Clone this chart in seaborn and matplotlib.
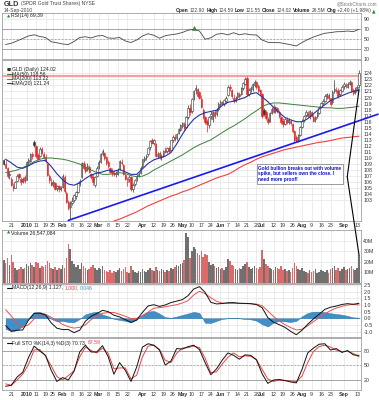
import numpy as np
import pandas as pd
import matplotlib
matplotlib.use("Agg")
import matplotlib.pyplot as plt
import seaborn as sns
from matplotlib.patches import ConnectionPatch

sns.set_style("white")
plt.rcParams['font.family'] = ['Liberation Sans', 'DejaVu Sans']

# ---------------- data ----------------
holidays = ['2009-12-25', '2010-01-01', '2010-01-18', '2010-02-15',
            '2010-04-02', '2010-05-31', '2010-07-05', '2010-09-06']
dates = pd.bdate_range('2009-12-15', '2010-09-14')
dates = dates[~dates.isin(pd.to_datetime(holidays))]

opens = [109.6, 109.0, 108.3, 107.2, 106.6, 105.4, 105.1, 106.2, 107.3, 106.6, 106.2, 106.8,
         106.4, 109.4, 109.5, 110.6, 112.7, 112.0, 110.5, 110.3, 111.5, 110.7, 110.2, 109.0, 107.0, 106.0, 105.8, 105.9, 105.0, 105.3, 104.8,
         105.2, 106.9, 104.3, 102.8, 101.9, 102.6, 103.0, 103.8, 104.4, 105.8, 106.8, 109.2, 108.5, 108.2, 108.5, 107.4, 106.9, 105.5, 107.0,
         108.5, 109.4, 110.6, 110.9, 110.2, 109.3, 108.3, 107.8, 107.5, 107.4, 107.4, 108.2, 109.4, 108.9, 107.2, 106.0, 106.5, 106.9, 104.8, 105.7, 106.5, 107.1, 107.6,
         108.6, 109.7, 110.1, 110.6, 111.8, 113.0, 112.4, 112.3, 110.4, 110.8, 110.2, 110.5, 111.3, 111.1, 111.6, 111.4, 113.0, 113.4, 113.3, 114.1, 114.7,
         115.3, 115.6, 115.2, 116.8, 118.2, 117.8, 119.9, 121.2, 121.4, 120.9, 119.8, 118.0, 116.8, 116.2, 115.4, 116.9, 116.5, 117.6, 117.2, 118.1,
         119.0, 119.2, 119.0, 119.5, 120.4, 121.7, 121.3, 120.0, 119.5, 120.1, 120.6, 120.5, 121.6, 122.3, 123.2, 120.6, 121.3, 121.4, 122.0, 122.5, 121.9, 121.2,
         120.5, 117.9, 117.6, 116.4, 116.1, 117.5, 118.2, 117.7, 118.2, 117.6, 116.8, 116.2, 115.7, 116.3, 116.0, 116.1, 115.6, 114.4, 113.5, 113.0, 113.8,
         115.2, 116.3, 117.1, 117.5, 116.9, 117.6, 116.8, 116.4, 116.9, 117.5, 118.4, 119.1, 119.5, 120.3, 120.4, 119.9, 119.2, 121.0, 121.3, 121.1, 120.6, 121.1,
         121.9, 122.1, 121.8, 122.3, 122.5, 121.3, 120.9, 121.6, 122.0]
highs = [109.9, 109.6, 108.5, 107.8, 106.9, 105.8, 106.2, 107.3, 107.6, 106.9, 106.8, 107.2,
         109.5, 110.0, 110.9, 111.0, 113.0, 112.2, 110.9, 111.8, 111.9, 111.0, 110.6, 109.2, 107.3, 106.7, 106.4, 106.1, 105.6, 105.6, 105.4,
         107.3, 107.2, 104.6, 103.0, 102.9, 103.6, 104.1, 104.6, 106.1, 106.6, 109.3, 109.5, 109.1, 109.2, 108.8, 107.6, 107.3, 107.0, 108.6,
         109.6, 110.8, 111.5, 111.0, 110.4, 109.6, 108.5, 108.3, 108.0, 107.9, 108.3, 109.7, 109.9, 109.0, 107.5, 106.9, 107.2, 107.1, 105.9, 106.6, 107.3, 107.7, 108.6,
         109.9, 110.3, 110.6, 111.9, 112.9, 113.3, 113.1, 112.4, 111.0, 111.1, 110.7, 111.4, 111.9, 111.9, 112.0, 113.0, 113.8, 113.9, 114.2, 115.0, 115.6,
         116.0, 115.9, 117.0, 118.7, 119.0, 120.0, 121.3, 122.0, 121.6, 121.1, 120.4, 118.3, 117.0, 116.5, 117.0, 117.7, 117.8, 118.0, 118.2, 119.2,
         119.6, 119.5, 119.8, 120.3, 122.0, 122.2, 121.4, 120.5, 120.2, 120.9, 120.9, 121.7, 122.6, 123.4, 123.5, 121.5, 121.9, 122.4, 122.9, 122.8, 122.3, 121.4,
         120.7, 118.3, 117.9, 116.7, 117.6, 118.4, 119.0, 118.6, 118.5, 117.9, 117.0, 116.6, 116.6, 116.8, 116.6, 116.5, 115.8, 114.6, 113.8, 114.0, 115.3,
         116.4, 117.1, 117.9, 117.8, 118.0, 117.8, 117.2, 117.0, 117.7, 118.6, 119.3, 119.7, 120.5, 120.8, 120.7, 120.0, 121.2, 122.9, 121.8, 121.6, 121.4, 122.1,
         122.5, 122.4, 122.6, 122.9, 122.7, 121.6, 121.7, 122.0, 124.59]
lows = [108.8, 108.3, 106.7, 106.6, 105.3, 104.6, 105.0, 106.1, 106.5, 105.6, 105.8, 105.9,
        106.3, 108.9, 109.3, 109.8, 111.9, 110.0, 109.6, 110.1, 110.6, 109.8, 109.2, 107.0, 105.9, 105.3, 105.2, 104.7, 104.5, 104.4, 104.5,
        105.0, 104.2, 102.5, 101.4, 99.9, 102.2, 102.7, 103.3, 104.2, 105.3, 106.7, 108.0, 107.6, 107.9, 107.5, 106.6, 105.6, 105.2, 106.9,
        108.2, 109.2, 110.3, 109.7, 108.9, 108.4, 107.5, 107.1, 107.0, 106.9, 107.2, 108.0, 108.8, 107.2, 106.3, 105.4, 106.0, 104.6, 104.4, 105.3, 106.2, 106.8, 107.3,
        108.4, 109.4, 109.6, 110.4, 111.4, 112.3, 112.1, 110.1, 110.0, 109.8, 109.6, 110.2, 110.8, 110.9, 110.9, 111.3, 112.6, 112.8, 113.0, 113.9, 114.4,
        114.9, 114.5, 115.0, 116.5, 117.1, 117.5, 119.6, 120.6, 119.9, 119.7, 118.2, 116.4, 115.6, 114.3, 115.0, 116.4, 116.0, 116.6, 116.9, 117.8,
        118.5, 118.8, 118.6, 119.1, 120.2, 121.0, 119.9, 119.1, 119.2, 119.8, 120.0, 120.4, 121.3, 122.1, 120.2, 120.3, 120.9, 121.1, 121.7, 121.4, 120.7, 120.4,
        116.6, 117.0, 116.3, 115.6, 116.0, 117.2, 117.4, 117.5, 117.4, 116.6, 115.6, 115.2, 115.4, 115.7, 115.6, 115.5, 114.2, 112.6, 112.7, 112.7, 113.6,
        115.0, 116.0, 116.7, 116.7, 116.5, 116.7, 115.9, 116.0, 116.6, 117.3, 118.2, 118.7, 119.3, 119.8, 119.6, 118.6, 119.0, 120.8, 120.7, 119.9, 120.3, 120.9,
        121.4, 121.6, 121.5, 122.0, 120.9, 120.4, 120.6, 121.1, 121.55]
closes = [109.0, 108.4, 107.0, 107.4, 105.5, 105.0, 106.0, 107.1, 106.8, 106.0, 106.6, 106.2,
          109.3, 109.6, 110.7, 110.4, 112.2, 110.3, 109.9, 111.5, 110.9, 110.1, 109.5, 107.2, 106.3, 105.6, 106.1, 104.9, 105.3, 104.8, 105.1,
          107.1, 104.5, 102.7, 101.7, 102.5, 102.9, 103.9, 104.4, 105.9, 106.2, 109.1, 108.3, 107.9, 108.6, 107.7, 106.9, 106.0, 106.8, 108.4,
          109.4, 110.6, 111.2, 110.0, 109.2, 108.7, 107.7, 107.6, 107.3, 107.5, 108.1, 109.5, 109.1, 107.4, 106.6, 106.5, 106.8, 104.9, 105.6, 106.4, 107.0, 107.4, 108.3,
          109.8, 110.0, 110.4, 111.7, 112.8, 112.5, 112.9, 110.4, 110.6, 110.1, 110.3, 111.2, 111.0, 111.7, 111.2, 112.9, 113.5, 113.1, 114.0, 114.8, 115.4,
          115.8, 114.9, 116.8, 118.3, 117.6, 119.8, 121.0, 121.5, 120.2, 120.0, 118.5, 116.7, 116.0, 115.6, 116.8, 117.2, 117.6, 116.9, 118.0, 119.0,
          119.3, 119.0, 119.6, 119.9, 121.8, 121.6, 120.2, 119.4, 119.9, 120.7, 120.3, 121.5, 122.4, 123.1, 120.5, 121.2, 121.5, 122.2, 122.6, 121.7, 121.0, 120.6,
          117.0, 117.2, 116.6, 115.9, 117.4, 118.1, 117.6, 118.4, 117.7, 117.0, 115.9, 115.6, 116.4, 116.0, 116.3, 115.8, 114.5, 112.9, 112.8, 113.8, 115.1,
          116.2, 116.9, 117.6, 117.0, 117.8, 117.0, 116.2, 116.7, 117.4, 118.4, 119.1, 119.4, 120.3, 120.6, 119.9, 118.9, 120.9, 121.4, 121.0, 120.2, 121.2, 121.8,
          122.2, 121.9, 122.3, 122.6, 121.1, 120.8, 121.4, 121.6, 124.02]
volume_m = [22, 19, 24, 17, 26, 20, 14, 12, 13, 15, 13, 14,
            18, 16, 19, 17, 15, 20, 19, 14, 16, 15, 17, 21, 19, 14, 13, 15, 12, 14, 13,
            17, 14, 24, 37, 32, 21, 18, 15, 17, 13, 19, 16, 14, 12, 13, 15, 17, 14, 12,
            14, 13, 16, 12, 11, 10, 12, 9, 11, 10, 12, 14, 11, 13, 15, 10, 9, 16, 12, 10, 9, 11, 10,
            13, 11, 10, 12, 14, 12, 11, 15, 12, 11, 13, 12, 10, 12, 11, 14, 13, 15, 17, 16, 18,
            19, 22, 47, 43, 24, 30, 34, 32, 28, 26, 30, 25, 27, 26, 20, 17, 18, 16, 14, 15,
            13, 14, 12, 15, 23, 21, 17, 16, 13, 12, 14, 13, 16, 18, 20, 15, 13, 14, 16, 14, 13, 15,
            31, 23, 18, 16, 14, 13, 12, 15, 14, 13, 16, 12, 13, 11, 12, 10, 14, 19, 16, 13, 12,
            14, 11, 10, 9, 12, 10, 11, 13, 9, 10, 12, 11, 10, 12, 9, 13, 14, 16, 12, 14, 11, 13,
            15, 12, 13, 14, 16, 13, 12, 14, 26.5]

# indicator readings, one every third session
rsi14 = [39, 41.5, 46, 51, 56, 58.5, 55, 53, 44.5, 42.5, 40, 39, 45, 53, 54.5, 52, 56, 57, 52, 51.5,
         53, 46, 43, 48, 56, 60.5, 57.5, 51.5, 56.5, 58.5, 60, 63, 67.5, 69.5, 66, 49.5, 52.5, 59.5, 61, 58.5,
         62.5, 58.5, 60.5, 58.5, 58, 48, 43.5, 42.7, 42.7, 40.7, 38.5, 36, 43, 49, 54, 58, 61.5, 62.7, 64.5, 64.7,
         66, 64.7, 69.4]
ema20 = [109.8, 109.2, 108.5, 108.3, 108.7, 109.2, 109.5, 109.6, 108.6, 107.4, 106.4, 105.7, 105.5, 105.9, 106.6,
         107.2, 107.5, 107.7, 108.0, 107.8, 108.1, 107.7, 107.3, 107.3, 108.2, 109.1, 109.7, 110.0, 110.3, 110.9,
         112.3, 113.9, 115.3, 116.4, 117.1, 117.5, 117.7, 117.9, 118.7, 119.2, 119.4, 119.7, 120.0, 120.6, 120.8,
         120.1, 119.3, 118.4, 117.5, 116.7, 116.3, 116.0, 116.0, 116.5, 117.3, 118.1, 118.8, 119.5, 119.9, 120.3,
         120.7, 121.0, 121.24]
ma50 = [107.6, 107.8, 108.0, 108.4, 108.9, 109.4, 109.8, 110.0, 110.0, 109.9, 109.8, 109.6, 109.3, 109.0, 108.5,
        108.0, 107.6, 107.3, 107.3, 107.4, 107.6, 107.4, 107.1, 106.9, 107.0, 107.4, 108.0, 108.5, 109.0, 109.5,
        110.0, 110.5, 111.1, 111.7, 112.2, 112.6, 113.0, 113.6, 114.2, 114.8, 115.3, 115.9, 116.5, 117.2, 117.8,
        118.5, 118.9, 119.1, 119.1, 119.0, 118.9, 118.8, 118.7, 118.6, 118.5, 118.4, 118.3, 118.3, 118.2, 118.2,
        118.3, 118.4, 118.56]
ma200 = [np.nan] * 19 + [99.6, 99.9, 100.3, 100.7, 101.1, 101.6, 102.1, 102.5, 102.9, 103.3, 103.7, 104.0,
                          104.4, 104.7, 105.1, 105.5, 105.9, 106.3, 106.7, 107.0, 107.3, 107.8, 108.4, 108.9,
                          109.3, 109.8, 110.2, 110.5, 110.8, 111.1, 111.4, 111.6, 111.8, 112.0, 112.2, 112.4,
                          112.6, 112.7, 112.9, 113.1, 113.3, 113.4, 113.5, 113.6]
macd = [-0.55, -0.98, -0.9, -0.88, -0.15, 0.37, 0.38, 0.25, -0.35, -0.75, -0.85, -0.85, -1.08, -0.9, -0.22,
        0.15, 0.35, 0.6, 0.5, 0.23, 0.1, -0.1, -0.31, -0.13, 0.44, 0.93, 1.02, 0.89, 1.0, 1.18,
        1.29, 1.4, 1.7, 2.2, 2.38, 1.95, 1.2, 1.08, 1.11, 1.17, 1.18, 1.13, 1.12, 1.1, 1.03,
        0.8, 0.05, -0.3, -0.48, -0.68, -0.98, -1.24, -0.9, -0.45, -0.05, 0.3, 0.67, 0.83, 0.92, 1.04,
        1.1, 1.05, 1.127]
signal = [0.65, 0.18, -0.4, -0.66, -0.5, -0.05, 0.25, 0.3, 0.07, -0.17, -0.47, -0.63, -0.74, -0.68, -0.5,
          -0.1, 0.15, 0.37, 0.43, 0.44, 0.3, 0.15, -0.02, 0.0, 0.18, 0.46, 0.76, 0.8, 0.86, 0.95,
          1.02, 1.15, 1.33, 1.75, 2.03, 1.85, 1.55, 1.28, 1.14, 1.12, 1.12, 1.12, 1.11, 1.09, 1.07,
          0.95, 0.55, 0.14, -0.2, -0.48, -0.7, -0.88, -0.82, -0.57, -0.25, 0.04, 0.32, 0.58, 0.77, 0.9,
          1.0, 1.06, 1.0]
macd_hist = [-0.8, -0.97, -0.9, -0.6, 0.0, 0.45, 0.47, 0.33, -0.05, -0.23, -0.2, -0.28, -0.3, -0.05, 0.3,
             0.42, 0.5, 0.28, 0.15, -0.05, -0.12, -0.2, -0.3, -0.1, 0.28, 0.5, 0.55, 0.35, 0.08, 0.04,
             0.13, 0.25, 0.36, 0.48, 0.4, -0.35, -0.35, -0.2, -0.05, 0.0, 0.03, 0.0, -0.06, -0.08, -0.18,
             -0.45, -0.62, -0.32, -0.2, -0.23, -0.28, -0.2, 0.15, 0.4, 0.5, 0.5, 0.46, 0.38, 0.32, 0.27,
             0.18, 0.07, 0.046]
sto_k = [7, 9, 26, 36, 66, 90, 80, 71, 40, 17, 25, 20, 38, 78, 92, 78, 78, 91, 68, 32,
         56, 40, 17, 47, 88, 95, 92, 82, 51, 59, 85, 84, 89, 92, 83, 56, 31, 43, 61, 76,
         71, 63, 72, 71, 62, 33, 13, 20, 21, 19, 16, 14, 42, 76, 86, 94, 95, 82, 85, 77,
         81, 72, 70.73]
sto_d = [12, 9, 20, 32, 52, 82, 83, 70, 49, 27, 20, 29, 39, 68, 88, 81, 76, 86, 75, 43,
         45, 45, 22, 30, 68, 90, 92, 83, 61, 56, 75, 86, 87, 90, 87, 65, 35, 37, 53, 67,
         76, 68, 70, 69, 62, 42, 22, 17, 20, 18.6, 18, 16.6, 28, 56, 79, 89, 92, 88, 82, 79,
         79, 75, 67.59]

tick_dates = ['2009-12-21', '2010-01-04', '2010-01-11', '2010-01-19', '2010-01-25', '2010-02-01',
              '2010-02-08', '2010-02-16', '2010-02-22', '2010-03-01', '2010-03-08', '2010-03-15',
              '2010-03-22', '2010-04-01', '2010-04-12', '2010-04-19', '2010-04-26', '2010-05-03',
              '2010-05-10', '2010-05-17', '2010-05-24', '2010-06-01', '2010-06-07', '2010-06-14',
              '2010-06-21', '2010-06-28', '2010-07-01', '2010-07-12', '2010-07-19', '2010-07-26',
              '2010-08-02', '2010-08-09', '2010-08-16', '2010-08-23', '2010-09-01', '2010-09-13']
tick_labels = ['21', '2010', '11', '19', '25', 'Feb', '8', '16', '22', 'Mar', '8', '15', '22', 'Apr',
               '12', '19', '26', 'May', '10', '17', '24', 'Jun', '7', '14', '21', '28', 'Jul', '12',
               '19', '26', 'Aug', '9', '16', '23', 'Sep', '13']

resistance = 123.5
trend_dates = ['2010-02-05', '2010-07-27']
trend_prices = [99.8, 112.5]
note_text = "Gold bullion breaks out with volume\nspike, but sellers own the close. I\nneed more proof!"
header_fields = [('Open', '122.90'), ('High', '124.59'), ('Low', '121.55'), ('Close', '124.02'),
                 ('Volume', '26.5M'), ('Chg', '+2.40 (+1.98%)')]

# ---------------- layout ----------------
W, H = 379, 400
fig = plt.figure(figsize=(W / 100, H / 100), dpi=100)
fig.patch.set_facecolor('white')
renderer = fig.canvas.get_renderer()
LPX, RPX = 2.2, 361.3
XLIM = (-0.8, 188.2)
FS = 3.7


def panel(top, bottom):
    return fig.add_axes([LPX / W, 1 - bottom / H, (RPX - LPX) / W, (bottom - top) / H])


def ftext(xp, yp, s, **kw):
    kw.setdefault('va', 'center')
    kw.setdefault('fontsize', FS)
    kw.setdefault('color', '#222222')
    return fig.text(xp / W, 1 - yp / H, s, **kw)


def seq(xp, yp, parts, gap=1.2):
    """write text pieces one after another, returning the end x in pixels"""
    x = xp
    for s, kw in parts:
        t = ftext(x, yp, s, **kw)
        bb = t.get_window_extent(renderer=renderer)
        x = bb.x1 + gap
    return x


n = len(closes)
xs = np.arange(n)
tick_pos = [dates.get_loc(pd.Timestamp(d)) for d in tick_dates]
ind_pos = np.arange(1, n, 3)
O, Hh, Lo, C = map(np.array, (opens, highs, lows, closes))
prevC = np.r_[C[0], C[:-1]]
down = C < prevC


def style(ax, ylim, yt, yl, datelabels=False):
    ax.set_xlim(XLIM)
    ax.set_ylim(ylim)
    ax.set_facecolor('white')
    ax.yaxis.tick_right()
    ax.set_yticks(yt)
    ax.set_yticklabels(yl, fontsize=3.8, color='#333333')
    ax.tick_params(axis='y', length=0, pad=1.5)
    ax.set_xticks(tick_pos)
    ax.tick_params(axis='x', length=0, pad=1.2, labelbottom=datelabels)
    if datelabels:
        ax.set_xticklabels(tick_labels, fontsize=3.8, color='#333333')
        for t in ax.get_xticklabels():
            if not t.get_text().isdigit() or t.get_text() == '2010':
                t.set_fontweight('bold')
    ax.grid(True, color='#e4e4e4', lw=0.5)
    ax.set_axisbelow(True)
    for s in ax.spines.values():
        s.set_color('#a0a0a0')
        s.set_linewidth(0.6)
    ax.set_xlabel('')
    ax.set_ylabel('')


# ---- RSI panel ----
ax_rsi = panel(13, 59)
style(ax_rsi, (10, 102), [90, 70, 50, 30, 10], ['90', '70', '50', '30', '10'])
ax_rsi.axhline(70, color='#9a9a9a', lw=0.6)
ax_rsi.axhline(30, color='#9a9a9a', lw=0.6)
ax_rsi.axhline(50, color='#9a9a9a', lw=0.5, ls=(0, (3, 2)))
sns.lineplot(x=ind_pos, y=rsi14, ax=ax_rsi, color='#444444', lw=0.6)
pk = int(np.argmax(rsi14))
ax_rsi.plot(ind_pos[pk], rsi14[pk] + 2, marker='^', color='#3c8c3c', ms=3, mec='#2a6a2a', mew=0.3)
ax_rsi.set_xlabel('')

# ---- price panel ----
ax_p = panel(60, 221)
yt = list(range(103, 125))
style(ax_p, (99.59, 126.2), yt, [str(v) for v in yt], datelabels=True)
ax_p.axhline(resistance, color='#f2a0a0', lw=1.6, zorder=1)
ccol = np.where(down, '#e02828', '#333333')
ax_p.vlines(xs, Lo, Hh, colors=ccol, lw=0.5, zorder=3)
body_lo = np.minimum(O, C)
body_h = np.maximum(np.abs(C - O), 0.1)
face = np.where(C < O, ccol, 'white')
ax_p.bar(xs, body_h, bottom=body_lo, width=0.72, color=face, edgecolor=ccol, linewidth=0.4, zorder=4)
sns.lineplot(x=ind_pos, y=ma50, ax=ax_p, color='#3d7f3d', lw=0.7, zorder=5)
m200 = np.array(ma200)
ok = ~np.isnan(m200)
sns.lineplot(x=ind_pos[ok], y=m200[ok], ax=ax_p, color='#f04040', lw=0.8, zorder=5)
sns.lineplot(x=ind_pos, y=ema20, ax=ax_p, color='#2431a8', lw=0.8, zorder=5)
ax_p.set_xlabel('')
# trendline through the Feb and Jul lows, extended to the right margin
tx = [dates.get_loc(pd.Timestamp(d)) for d in trend_dates]
slope = (trend_prices[1] - trend_prices[0]) / (tx[1] - tx[0])
tx_end = n + 9
ax_p.plot([tx[0] - 1, tx_end], [trend_prices[0] - slope, trend_prices[0] + slope * (tx_end - tx[0])],
          color='#1a1aee', lw=1.2, clip_on=False, zorder=6)
# note box
ax_p.text(134.0, 108.7, note_text, fontsize=3.45, color='#1010d0', fontweight='bold', va='top', ha='left',
          linespacing=1.15, zorder=8,
          bbox=dict(boxstyle='square,pad=0.35', fc='white', ec='#8a8a8a', lw=0.6))
box_corner = (180.8, 106.9)
ax_p.plot([box_corner[0], n - 1], [box_corner[1], 121.3], color='black', lw=0.8, clip_on=False, zorder=7)

# ---- volume panel ----
ax_v = panel(230, 283)
style(ax_v, (0, 50e6), [10e6, 20e6, 30e6, 40e6], ['10M', '20M', '30M', '40M'])
vol = np.array(volume_m) * 1e6
ax_v.bar(xs, vol, width=0.85, color=np.where(down, '#dd6a6a', '#707070'), edgecolor='none', zorder=3)
con = ConnectionPatch(xyA=box_corner, coordsA=ax_p.transData, xyB=(n - 1, vol[-1]), coordsB=ax_v.transData,
                      color='black', lw=0.8, zorder=10)
fig.add_artist(con)

# ---- MACD panel ----
ax_m = panel(284, 337)
mt = [2.5, 2.0, 1.5, 1.0, 0.5, 0.0, -0.5, -1.0]
style(ax_m, (-1.41, 2.58), mt, ['%.1f' % v for v in mt])
ax_m.fill_between(ind_pos, macd_hist, 0, color='#3f8fc8', lw=0.3, ec='#2a6fa0', zorder=3)
sns.lineplot(x=ind_pos, y=signal, ax=ax_m, color='#f05050', lw=0.7, zorder=4)
sns.lineplot(x=ind_pos, y=macd, ax=ax_m, color='#111111', lw=0.7, zorder=5)
ax_m.set_xlabel('')

# ---- Slow STO panel ----
ax_s = panel(338, 390)
style(ax_s, (-0.7, 106.9), [80, 50, 20], ['80', '50', '20'], datelabels=True)
ax_s.axhline(80, color='#9a9a9a', lw=0.6)
ax_s.axhline(20, color='#9a9a9a', lw=0.6)
ax_s.axhline(50, color='#9a9a9a', lw=0.5, ls=(0, (3, 2)))
sns.lineplot(x=ind_pos, y=sto_d, ax=ax_s, color='#f04040', lw=0.7, zorder=4)
sns.lineplot(x=ind_pos, y=sto_k, ax=ax_s, color='#111111', lw=0.7, zorder=5)
ax_s.set_xlabel('')

# ---------------- header & legends ----------------
seq(4, 4, [('GLD', dict(fontweight='bold', fontsize=5.2, color='#333333')),
           ('(SPDR Gold Trust Shares) NYSE', dict(fontsize=3.6, color='#444444'))])
ftext(4, 10.5, '14-Sep-2010', fontsize=3.6, color='#444444')
ftext(377, 4, '@StockCharts.com', fontsize=3.3, color='#777777', ha='right')
parts = []
for lab, val in header_fields:
    parts.append((lab, dict(fontweight='bold', fontsize=3.5)))
    parts.append((val, dict(fontsize=3.5, color='#444444')))
parts.append(('\u25B2', dict(fontsize=3.3, color='#2a8a2a', family=['DejaVu Sans'])))
# measure the header, then right-align it to the figure margin
probe = [ftext(0, -50, s, **kw) for s, kw in parts]
total = sum(p.get_window_extent(renderer=renderer).width + 1.2 for p in probe)
for p in probe:
    p.remove()
seq(377 - total, 10.5, parts)

seq(7, 16, [('\u25B2', dict(fontsize=3.0, color='#2a8a2a', family=['DejaVu Sans'])),
            ('RSI(14) 69.39', dict())], gap=0.6)

seq(7, 69.5, [('\u25A0', dict(fontsize=3.2, color='#333333', family=['DejaVu Sans'])),
              ('GLD (Daily) 124.02', dict())], gap=0.8)
legend_rows = [(74.3, '#3d7f3d', 'MA(50) 118.56'), (78.8, '#f04040', 'MA(200) 113.22'),
               (83.3, '#2431a8', 'EMA(20) 121.24')]
for yp, c, s in legend_rows:
    fig.add_artist(plt.Line2D([7 / W, 11.5 / W], [1 - yp / H, 1 - yp / H], color=c, lw=0.8))
    ftext(12, yp, s)

seq(7, 233, [('\u25B2', dict(fontsize=3.0, color='#2a8a2a', family=['DejaVu Sans'])),
             ('Volume 26,547,084', dict())], gap=0.6)

fig.add_artist(plt.Line2D([7 / W, 11.5 / W], [1 - 288 / H, 1 - 288 / H], color='#111111', lw=0.8))
seq(12, 288, [('MACD(12,26,9) 1.127,', dict()), ('1.000,', dict(color='#f04040')),
              ('0.046', dict(color='#3f8fc8'))])

fig.add_artist(plt.Line2D([7 / W, 11.5 / W], [1 - 343 / H, 1 - 343 / H], color='#111111', lw=0.8))
seq(12, 343, [('Full STO %K(14,3) %D(3) 70.73,', dict()), ('67.59', dict(color='#f04040'))])

fig.savefig('out.png', dpi=100, facecolor='white')
